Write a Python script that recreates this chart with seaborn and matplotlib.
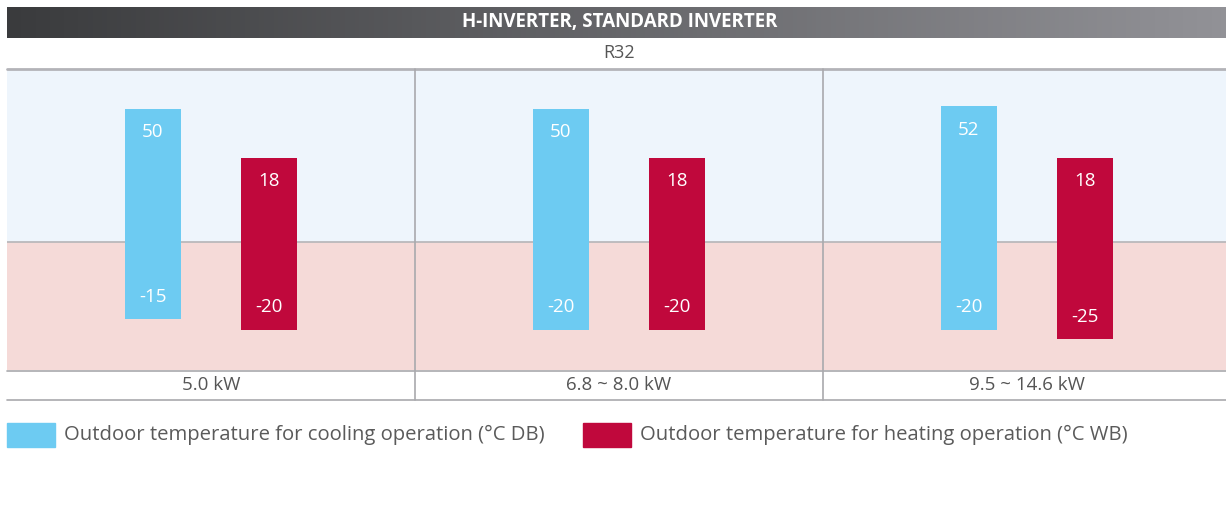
import matplotlib
matplotlib.use("Agg")
import matplotlib.pyplot as plt
import numpy as np
import pandas as pd
import seaborn as sns

# data
capacities = ["5.0 kW", "6.8 ~ 8.0 kW", "9.5 ~ 14.6 kW"]
cooling_max = [50, 50, 52]
cooling_min = [-15, -20, -20]
heating_max = [18, 18, 18]
heating_min = [-20, -20, -25]
series = ["Outdoor temperature for cooling operation (°C DB)",
          "Outdoor temperature for heating operation (°C WB)"]
colors = ["#6dcbf2", "#c0083c"]

sns.set_theme(style="white")
plt.rcParams["font.family"] = ["Open Sans", "DejaVu Sans"]

W, H = 1226, 532
fig = plt.figure(figsize=(W / 100, H / 100), dpi=100)


def box(x0, y0, x1, y1):
    # pixel box (top-left origin) -> figure fraction rect
    return [x0 / W, 1 - y1 / H, (x1 - x0) / W, (y1 - y0) / H]


# title bar with gradient
tax = fig.add_axes(box(7, 7, 1226, 38))
grad = np.linspace(0, 1, 256)[None, :]
cmap = matplotlib.colors.LinearSegmentedColormap.from_list("g", ["#3a3b3d", "#929297"])
tax.imshow(grad, aspect="auto", cmap=cmap, extent=[0, 1, 0, 1])
tax.set_axis_off()
fig.text(620 / W, 1 - 22 / H, "H-INVERTER, STANDARD INVERTER", color="white",
         fontsize=13.5, fontweight="bold", ha="center", va="center")
fig.text(619 / W, 1 - 53 / H, "R32", color="#555555", fontsize=13,
         ha="center", va="center")

# long form data for seaborn
df_max = pd.DataFrame({"capacity": capacities * 2,
                       "series": [series[0]] * 3 + [series[1]] * 3,
                       "value": cooling_max + heating_max})
df_min = pd.DataFrame({"capacity": capacities * 2,
                       "series": [series[0]] * 3 + [series[1]] * 3,
                       "value": cooling_min + heating_min})

ax = fig.add_axes(box(7, 69, 1226, 370))
p = 0.45
fwd = lambda v: np.sign(v) * np.abs(v) ** p
inv = lambda v: np.sign(v) * np.abs(v) ** (1 / p)
ax.set_yscale("function", functions=(fwd, inv))

top, bottom = 89.3, -45.8
ax.axhspan(0, top, color="#eef5fc", zorder=0)
ax.axhspan(bottom, 0, color="#f5dad8", zorder=0)
ax.axhline(0, color="#b5b5b8", lw=1.2, zorder=1)

for d in (df_max, df_min):
    sns.barplot(data=d, x="capacity", y="value", hue="series", palette=colors,
                width=0.57, gap=0.52, errorbar=None, legend=False,
                saturation=1, linewidth=0, edgecolor="none", ax=ax, zorder=2)

ax.set_xlim(-0.5, 2.488)
ax.set_ylim(bottom, top)
ax.set_axis_off()

# value labels inside bars
offs = [-0.1425, 0.1425]
for i in range(3):
    for j, (hi, lo) in enumerate([(cooling_max, cooling_min), (heating_max, heating_min)]):
        x = i + offs[j]
        ax.annotate(str(hi[i]), (x, hi[i]), xytext=(0, -17), textcoords="offset points",
                    ha="center", va="center", color="white", fontsize=13.5)
        ax.annotate(str(lo[i]), (x, lo[i]), xytext=(0, 16.5), textcoords="offset points",
                    ha="center", va="center", color="white", fontsize=13.5)

# table lines
line = dict(color="#a9a9ad", lw=1.2)
fig.add_artist(plt.Line2D([7 / W, 1], [1 - 68.5 / H] * 2, color="#b3b3b8", lw=2))
fig.add_artist(plt.Line2D([7 / W, 1], [1 - 370.5 / H] * 2, **line))
fig.add_artist(plt.Line2D([7 / W, 1], [1 - 400 / H] * 2, **line))
for xs in (415, 823):
    fig.add_artist(plt.Line2D([xs / W] * 2, [1 - 69 / H, 1 - 400 / H], **line))

for i, cap in enumerate(capacities):
    xc = (7 + 408 * (i + 0.5)) / W
    fig.text(xc, 1 - 385 / H, cap, color="#555555", fontsize=13.5, ha="center", va="center")

# legend
for (x0, lbl), c in zip([(7, series[0]), (583, series[1])], colors):
    fig.add_artist(matplotlib.patches.Rectangle((x0 / W, 1 - 447 / H), 48 / W, 24 / H,
                                                color=c, transform=fig.transFigure))
    fig.text((x0 + 57) / W, 1 - 435 / H, lbl, color="#5a5a5a", fontsize=14.6,
             ha="left", va="center")

fig.savefig("out.png", dpi=100)
